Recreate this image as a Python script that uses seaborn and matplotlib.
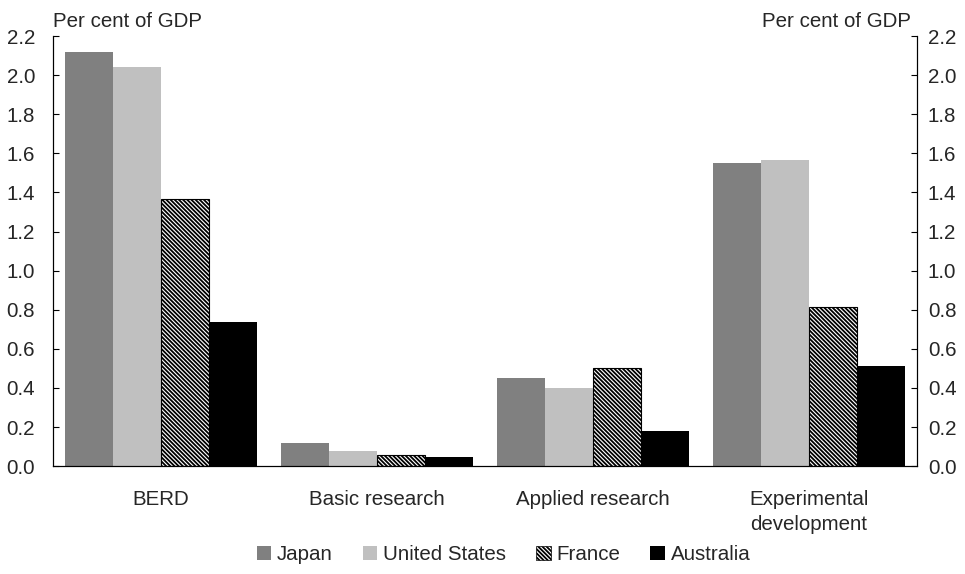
import matplotlib
matplotlib.use("Agg")
import matplotlib.pyplot as plt
from matplotlib.patches import Patch
import seaborn as sns
import pandas as pd

# data (per cent of GDP)
categories = ["BERD", "Basic research", "Applied research", "Experimental\ndevelopment"]
countries = ["Japan", "United States", "France", "Australia"]
japan = [2.12, 0.12, 0.45, 1.55]
united_states = [2.04, 0.075, 0.40, 1.565]
france = [1.365, 0.057, 0.50, 0.815]
australia = [0.735, 0.046, 0.18, 0.51]
yticks = [0.0, 0.2, 0.4, 0.6, 0.8, 1.0, 1.2, 1.4, 1.6, 1.8, 2.0, 2.2]

colors = {"Japan": "#808080", "United States": "#c0c0c0",
          "France": "white", "Australia": "black"}
HATCH = "\\" * 8

df = pd.DataFrame({
    "category": categories * 4,
    "country": [c for c in countries for _ in categories],
    "value": japan + united_states + france + australia,
})

sns.set_style("white")
plt.rcParams["font.family"] = ["Liberation Sans", "DejaVu Sans"]
plt.rcParams["hatch.linewidth"] = 1.3
plt.rcParams["font.size"] = 14.8

fig = plt.figure(figsize=(9.65, 5.74), dpi=100)
ax = fig.add_axes([0.055, 0.188, 0.895, 0.749])

sns.barplot(data=df, x="category", y="value", hue="country",
            order=categories, hue_order=countries, palette=colors,
            width=0.89, saturation=1, legend=False, ax=ax, linewidth=0)

# France bars: black/white hatch
n = len(categories)
for i, bar in enumerate(ax.patches[:4 * n]):
    if countries[i // n] == "France":
        bar.set_facecolor("white")
        bar.set_edgecolor("black")
        bar.set_hatch(HATCH)
        bar.set_linewidth(0.8)

ax.set_ylim(0, 2.2)
ax.set_xlim(-0.5, n - 0.5)
ax.set_yticks(yticks)
ax.set_yticklabels([f"{t:.1f}" for t in yticks])
ax.tick_params(axis="y", direction="in", length=4, width=0.8, color="black",
               left=True, right=False, pad=13)
ax.set_xticks(range(n))
ax.set_xticklabels(categories, linespacing=1.45)
ax.set_xticks([i + 0.5 for i in range(n - 1)], minor=True)
ax.tick_params(axis="x", which="major", length=0, pad=17)
ax.tick_params(axis="x", which="minor", direction="in", length=5, width=0.8, color="black")
ax.set_xlabel("")
ax.set_ylabel("")

# right-hand axis repeats the scale
ax2 = ax.twinx()
ax2.set_ylim(0, 2.2)
ax2.set_yticks(yticks)
ax2.set_yticklabels([f"{t:.1f}" for t in yticks])
ax2.tick_params(axis="y", direction="in", length=4, width=0.8, color="black",
                right=True, pad=8)
ax2.grid(False)

for a in (ax, ax2):
    for side in ["left", "right", "bottom"]:
        a.spines[side].set_visible(True)
        a.spines[side].set_color("black")
        a.spines[side].set_linewidth(0.8)
    a.spines["top"].set_visible(False)

ax.text(0.0, 1.012, "Per cent of GDP", transform=ax.transAxes, ha="left", va="bottom")
ax.text(0.993, 1.012, "Per cent of GDP", transform=ax.transAxes, ha="right", va="bottom")

handles = []
for c in countries:
    if c == "France":
        handles.append(Patch(facecolor="white", edgecolor="black", hatch=HATCH, linewidth=0.5, label=c))
    else:
        handles.append(Patch(facecolor=colors[c], edgecolor="none", label=c))
fig.legend(handles=handles, loc="lower center", bbox_to_anchor=(0.522, -0.015), ncol=4,
           frameon=False, handlelength=0.7, handleheight=0.7, handletextpad=0.3,
           columnspacing=1.45)

fig.savefig("out.png", dpi=100)
